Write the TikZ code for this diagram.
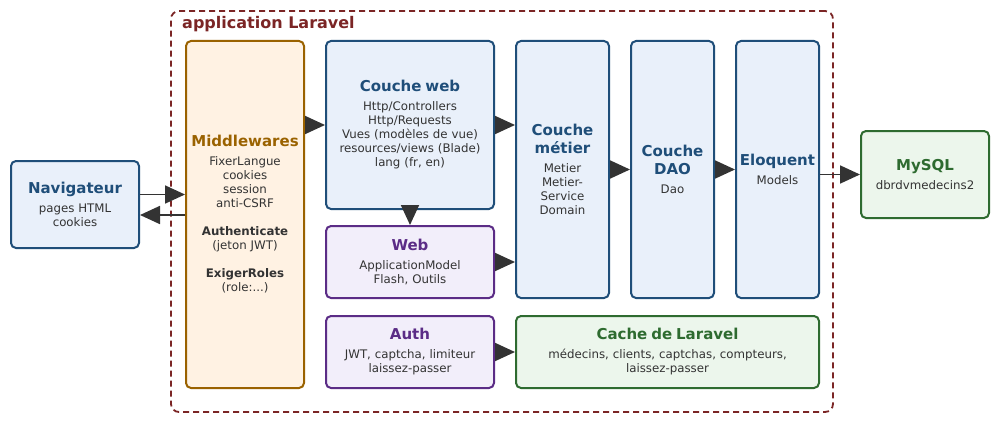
\documentclass[tikz,border=0pt]{standalone}
\usepackage{fontspec}
\setmainfont{DejaVu Sans}
\usetikzlibrary{arrows.meta}
\definecolor{bleuT}{HTML}{1F4E79}
\definecolor{bleuF}{HTML}{E9F0FA}
\definecolor{orT}{HTML}{9A6200}
\definecolor{orF}{HTML}{FFF2E3}
\definecolor{violT}{HTML}{5B2C86}
\definecolor{violF}{HTML}{F2EEFA}
\definecolor{vertT}{HTML}{2E6B30}
\definecolor{vertF}{HTML}{ECF6EC}
\definecolor{rougeT}{HTML}{7B2525}
\definecolor{texte}{HTML}{333333}
\newcommand \titre[2] {{\color{#1}\bfseries\fontsize{15}{18}\selectfont #2\par}\vspace{5pt}}

\begin{document}
\begin{tikzpicture}[x=1pt, y=-1pt,
	boite/.style={draw, rounded corners=5pt, line width=2pt, align=center, inner sep=0pt, text=texte, font=\fontsize{11.8}{14}\selectfont},
	dim/.style 2 args={minimum width=#1pt, text width=#1pt, minimum height=#2pt},
	bleu/.style={boite, draw=bleuT, fill=bleuF},
	orange/.style={boite, draw=orT, fill=orF},
	violet/.style={boite, draw=violT, fill=violF},
	vert/.style={boite, draw=vertT, fill=vertF},
	cadre/.style={draw=rougeT, line width=1.8pt, dash pattern=on 6pt off 4pt, rounded corners=8pt, inner sep=0pt},
	fleche/.style={draw=texte, line width=1.8pt, -{Triangle[length=20pt, width=18pt]}}]
	\useasboundingbox (0,0) rectangle (1000,420);
	% Application
	\node [cadre, dim={662}{401}] (app) at (502,211.5) {};
	\node [anchor=west, inner sep=0pt, text=rougeT, font=\bfseries\fontsize{16}{18}\selectfont] (nomApp) at (182,24) {application Laravel};
	% Boites
	\node [bleu, dim={128}{87}] (nav) at (75,204.5) {\titre{bleuT}{Navigateur}pages HTML\\cookies};
	\node [orange, dim={118}{347}] (mw) at (245,214.5)
		{\titre{orT}{Middlewares}FixerLangue\\cookies\\session\\anti-CSRF\\[14pt]
		\textbf{Authenticate}\\(jeton JWT)\\[14pt]\textbf{ExigerRoles}\\(role:...)};
	\node [bleu, dim={168}{168}] (web) at (410,125)
		{\titre{bleuT}{Couche web}Http/Controllers\\Http/Requests\\Vues (modèles de vue)\\resources/views (Blade)\\lang (fr, en)};
	\node [violet, dim={168}{72}] (appWeb) at (410,262) {\titre{violT}{Web}ApplicationModel\\Flash, Outils};
	\node [violet, dim={168}{72}] (auth) at (410,352) {\titre{violT}{Auth}JWT, captcha, limiteur\\laissez-passer};
	\node [bleu, dim={93}{257}] (metier) at (562.5,169.5) {\titre{bleuT}{Couche\\métier}Metier\\Metier-\\Service\\Domain};
	\node [bleu, dim={83}{257}] (dao) at (672.5,169.5) {\titre{bleuT}{Couche\\DAO}Dao};
	\node [bleu, dim={83}{257}] (eloq) at (777.5,169.5) {\titre{bleuT}{Eloquent}Models};
	\node [vert, dim={303}{72}] (cache) at (667.5,352)
		{\titre{vertT}{Cache de Laravel}médecins, clients, captchas, compteurs,\\laissez-passer};
	\node [vert, dim={128}{87}] (mysql) at (925,174.5) {\titre{vertT}{MySQL}dbrdvmedecins2};
	% Fleches
	\draw [fleche] ([yshift=10pt]nav.east) -- ([yshift=10pt]nav.east -| mw.west);
	\draw [fleche] ([yshift=-10.5pt]nav.east -| mw.west) -- ([yshift=-10.5pt]nav.east);
	\draw [fleche] (web.west -| mw.east) -- (web.west);
	\draw [fleche] (web.east) -- (web.east -| metier.west);
	\draw [fleche] (web.south) -- (appWeb.north);
	\draw [fleche] (appWeb.east) -- (appWeb.east -| metier.west);
	\draw [fleche] (auth.east) -- (cache.west);
	\draw [fleche] (metier.east) -- (dao.west);
	\draw [fleche] (dao.east) -- (eloq.west);
	\draw [fleche] (mysql.west -| eloq.east) -- (mysql.west);
\end{tikzpicture}
\end{document}
